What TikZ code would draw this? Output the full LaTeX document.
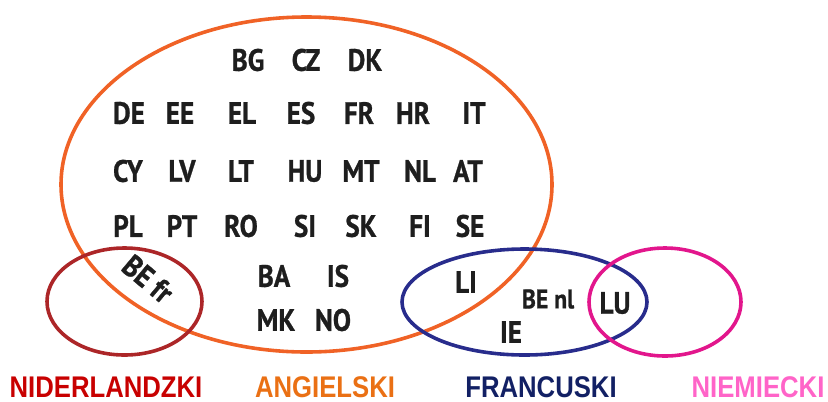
\documentclass[tikz,border=0pt]{standalone}
\usepackage{fontspec}
\setmainfont{PT Sans}[FakeStretch=0.88, BoldFeatures={FakeBold=0.8}]
\newfontfamily\labelfont{Liberation Sans}[FakeStretch=0.86]
\definecolor{cOrange}{RGB}{240,98,38}
\definecolor{cDarkRed}{RGB}{172,38,40}
\definecolor{cBlue}{RGB}{40,44,140}
\definecolor{cPink}{RGB}{226,22,140}
\definecolor{lRed}{RGB}{200,0,0}
\definecolor{lOrange}{RGB}{234,112,20}
\definecolor{lNavy}{RGB}{18,32,100}
\definecolor{lPink}{RGB}{255,100,200}
\definecolor{txt}{RGB}{30,30,30}
\tikzset{
  ring/.style={line width=3.6pt},
  cc/.style={inner sep=0pt, text=txt, font=\fontsize{31}{32}\selectfont\bfseries},
  ccs/.style={inner sep=0pt, text=txt, font=\fontsize{27}{28}\selectfont\bfseries},
  lang/.style={inner sep=0pt, font=\labelfont\fontsize{30}{31}\selectfont\bfseries}
}
\begin{document}
\begin{tikzpicture}[x=1bp,y=-1bp]
\useasboundingbox (0,0) rectangle (828,401);
% ellipses
\draw[ring,cOrange] (306.5,184.5) ellipse [x radius=245.5, y radius=167.5];
\draw[ring,cDarkRed] (124.5,301.5) ellipse [x radius=77.5, y radius=53.5];
\draw[ring,cBlue] (524.5,302) ellipse [x radius=122.5, y radius=53];
\draw[ring,cPink] (665,302) ellipse [x radius=76, y radius=54];
% row 1
\node[cc] (bg) at (248,60) {BG};
\node[cc] (cz) at (306,60) {CZ};
\node[cc] (dk) at (365,60) {DK};
% row 2
\node[cc] (de) at (129,113) {DE};
\node[cc] (ee) at (180,113) {EE};
\node[cc] (el) at (242,113) {EL};
\node[cc] (es) at (301,113) {ES};
\node[cc] (fr) at (359,113) {FR};
\node[cc] (hr) at (413,113) {HR};
\node[cc] (it) at (474,113) {IT};
% row 3
\node[cc] (cy) at (128,171) {CY};
\node[cc] (lv) at (182,171) {LV};
\node[cc] (lt) at (241,171) {LT};
\node[cc] (hu) at (305,171) {HU};
\node[cc] (mt) at (361,171) {MT};
\node[cc] (nl) at (420,171) {NL};
\node[cc] (at) at (468,171) {AT};
% row 4
\node[cc] (pl) at (128,226) {PL};
\node[cc] (pt) at (182,226) {PT};
\node[cc] (ro) at (241,226) {RO};
\node[cc] (si) at (305,226) {SI};
\node[cc] (sk) at (361,226) {SK};
\node[cc] (fi) at (420,226) {FI};
\node[cc] (se) at (470,226) {SE};
% candidates
\node[cc] (ba) at (274,276) {BA};
\node[cc] (is) at (338,276) {IS};
\node[cc] (mk) at (276,320) {MK};
\node[cc] (no) at (333,320) {NO};
% overlaps
\node[cc, rotate=-40] (befr) at (148,279) {BE fr};
\node[cc] (li) at (466,282) {LI};
\node[ccs] (benl) at (548,299) {BE nl};
\node[cc] (ie) at (511,332) {IE};
\node[cc] (lu) at (615,303) {LU};
% language labels
\node[lang, text=lRed] (nid) at (106,387) {NIDERLANDZKI};
\node[lang, text=lOrange] (ang) at (325,387) {ANGIELSKI};
\node[lang, text=lNavy] (fra) at (541,387) {FRANCUSKI};
\node[lang, text=lPink] (nie) at (758,387) {NIEMIECKI};
\end{tikzpicture}
\end{document}
